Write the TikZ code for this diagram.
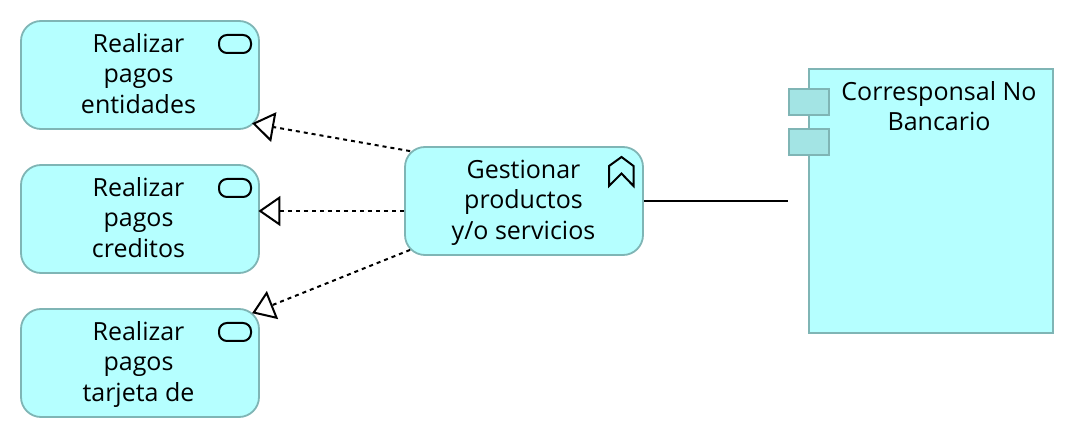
\documentclass[tikz,border=0pt]{standalone}
\usepackage{fontspec}
\setmainfont{Open Sans}
\usetikzlibrary{arrows.meta}
\definecolor{boxfill}{RGB}{181,255,255}
\definecolor{boxline}{RGB}{127,181,181}
\definecolor{tabfill}{RGB}{163,228,228}
\tikzset{
  funcbox/.style={draw=boxline, fill=boxfill, line width=1.8pt, rounded corners=20pt,
    minimum width=238pt, minimum height=108pt, inner sep=0pt},
  boxlabel/.style={anchor=north, align=center, inner sep=0pt, font=\fontsize{25}{30.3}\selectfont},
  compbox/.style={draw=boxline, fill=boxfill, line width=1.8pt,
    minimum width=244pt, minimum height=264pt, inner sep=0pt},
  tabbox/.style={draw=boxline, fill=tabfill, line width=1.8pt,
    minimum width=40pt, minimum height=26pt, inner sep=0pt},
  pillicon/.style={draw=black, line width=2pt, rounded corners=8pt,
    minimum width=32pt, minimum height=18pt, inner sep=0pt},
  realizes/.style={-{Triangle[open, length=22pt, width=30pt, line width=2pt]},
    line width=2pt, dash pattern=on 4pt off 4pt}
}
\begin{document}
\begin{tikzpicture}[x=1pt, y=-1pt]
  \useasboundingbox (0,0) rectangle (1074,438);

  % Functions on the left
  \node[funcbox] (entidades) at (140,75) {};
  \node[funcbox] (creditos) at (140,219) {};
  \node[funcbox] (tarjeta) at (140,363) {};
  \node[boxlabel] (entidadestext) at (138.5,33.5) {Realizar\\pagos\\entidades};
  \node[boxlabel] (creditostext) at (138.5,177.5) {Realizar\\pagos\\creditos};
  \node[boxlabel] (tarjetatext) at (138.5,321.5) {Realizar\\pagos\\tarjeta de};

  % Function icons
  \node[pillicon] (pillentidades) at (235,44) {};
  \node[pillicon] (pillcreditos) at (235,188) {};
  \node[pillicon] (pilltarjeta) at (235,332) {};

  % Service in the middle
  \node[funcbox] (gestionar) at (524,201) {};
  \node[boxlabel] (gestionartext) at (523.5,160) {Gestionar\\productos\\y/o servicios};
  \draw[line width=2pt] (621.5,157) -- (633.5,166) -- (633.5,186) -- (621.5,173.5)
    -- (609,186) -- (609,166) -- cycle;

  % Component on the right
  \node[compbox] (corresponsal) at (931,201) {};
  \node[boxlabel] (corresponsaltext) at (939,81) {Corresponsal No\\Bancario};
  \node[tabbox] (tabone) at (809,102) {};
  \node[tabbox] (tabtwo) at (809,142) {};

  % Connectors
  \draw[realizes] ([xshift=6pt, yshift=-5pt]gestionar.north west)
    -- ([xshift=-7.8pt, yshift=6.6pt]entidades.south east);
  \draw[realizes] ([yshift=-10pt]gestionar.west) -- ([xshift=-1.5pt, yshift=8pt]creditos.east);
  \draw[realizes] ([xshift=6pt, yshift=6pt]gestionar.south west)
    -- ([xshift=-7.8pt, yshift=-5.1pt]tarjeta.north east);
  \draw[line width=2pt] (gestionar.east) -- ([xshift=-20pt]corresponsal.west);
\end{tikzpicture}
\end{document}
